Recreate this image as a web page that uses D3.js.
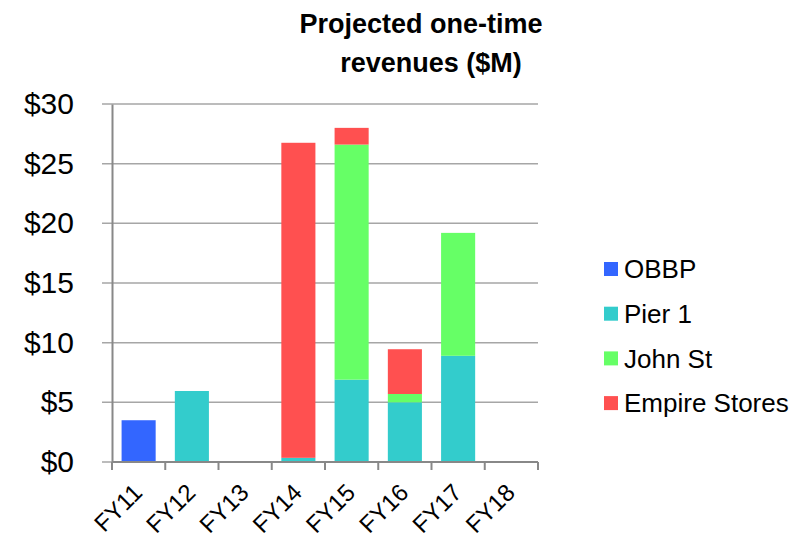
<!DOCTYPE html>
<html>
<head>
<meta charset="utf-8">
<script src="https://cdn.jsdelivr.net/npm/d3@7"></script>
<style>
  body { margin: 0; background: #fff; }
  svg { font-family: "Liberation Sans", Arial, sans-serif; }
</style>
</head>
<body>
<div id="chart"></div>
<script>
// Projected one-time revenues, $M
const years = ['FY11', 'FY12', 'FY13', 'FY14', 'FY15', 'FY16', 'FY17', 'FY18'];
const seriesNames = ['OBBP', 'Pier 1', 'John St', 'Empire Stores'];
const colors = ['#3366FF', '#33CCCC', '#66FF66', '#FF5050'];

const obbp = [3.5, 0, 0, 0, 0, 0, 0, 0];
const pier1 = [0, 5.95, 0, 0.35, 6.9, 5.0, 8.9, 0];
const johnSt = [0, 0, 0, 0, 19.7, 0.7, 10.3, 0];
const empireStores = [0, 0, 0, 26.4, 1.4, 3.75, 0, 0];

const yTicks = [0, 5, 10, 15, 20, 25, 30];

const W = 808, H = 538;
const margin = { top: 104, right: 270, bottom: 76, left: 112 };
const width = W - margin.left - margin.right;
const height = H - margin.top - margin.bottom;

const svg = d3.select('#chart').append('svg')
    .attr('width', W)
    .attr('height', H);

// Title
const title = svg.append('text')
    .attr('font-size', 27)
    .attr('font-weight', 'bold')
    .attr('text-anchor', 'middle');
title.append('tspan').attr('x', 421).attr('y', 33).text('Projected one-time');
title.append('tspan').attr('x', 431).attr('y', 72).text('revenues ($M)');

const g = svg.append('g')
    .attr('transform', `translate(${margin.left},${margin.top})`);

const x = d3.scaleBand()
    .domain(years)
    .range([0, width])
    .paddingInner(0.36)
    .paddingOuter(0.18);

const y = d3.scaleLinear()
    .domain([0, 30])
    .range([height, 0]);

// Gridlines
g.append('g')
    .selectAll('line')
    .data(yTicks)
    .join('line')
    .attr('x1', -10)
    .attr('x2', width)
    .attr('y1', d => y(d))
    .attr('y2', d => y(d))
    .attr('stroke', '#a6a6a6')
    .attr('stroke-width', 1.5);

// Stacked bars
const table = years.map((yr, i) => ({
    year: yr,
    'OBBP': obbp[i],
    'Pier 1': pier1[i],
    'John St': johnSt[i],
    'Empire Stores': empireStores[i]
}));

const stack = d3.stack().keys(seriesNames)(table);
const color = d3.scaleOrdinal().domain(seriesNames).range(colors);

g.append('g')
    .selectAll('g')
    .data(stack)
    .join('g')
    .attr('fill', d => color(d.key))
    .selectAll('rect')
    .data(d => d.filter(p => p[1] - p[0] > 0))
    .join('rect')
    .attr('x', d => x(d.data.year))
    .attr('width', x.bandwidth())
    .attr('y', d => y(d[1]))
    .attr('height', d => y(d[0]) - y(d[1]));

// Y axis
const yAxis = g.append('g')
    .call(d3.axisLeft(y).tickValues(yTicks).tickSize(0).tickPadding(38)
        .tickFormat(d => '$' + d));
yAxis.select('.domain').attr('stroke', '#888').attr('stroke-width', 2);
yAxis.selectAll('text')
    .attr('font-size', 30)
    .attr('fill', '#000')
    .attr('font-family', '"Liberation Sans", Arial, sans-serif');

// X axis
const xBounds = d3.range(years.length + 1).map(i => i * width / years.length);
const xAxis = g.append('g').attr('transform', `translate(0,${height})`);
xAxis.append('line')
    .attr('x1', 0).attr('x2', width)
    .attr('stroke', '#888').attr('stroke-width', 2);
xAxis.selectAll('.tick')
    .data(xBounds)
    .join('line')
    .attr('class', 'tick')
    .attr('x1', d => d).attr('x2', d => d)
    .attr('y1', 0).attr('y2', 8)
    .attr('stroke', '#888').attr('stroke-width', 2);

xAxis.selectAll('.label')
    .data(years)
    .join('text')
    .attr('class', 'label')
    .attr('font-size', 24)
    .attr('text-anchor', 'end')
    .attr('transform', d => `translate(${x(d) + x.bandwidth() / 2 + 5},${32}) rotate(-45)`)
    .text(d => d);

// Legend
const legend = svg.append('g')
    .attr('transform', 'translate(604,269)');
const items = legend.selectAll('g')
    .data(seriesNames)
    .join('g')
    .attr('transform', (d, i) => `translate(0,${i * 44.7})`);
items.append('rect')
    .attr('x', 0).attr('y', -7)
    .attr('width', 14).attr('height', 14)
    .attr('fill', d => color(d));
items.append('text')
    .attr('x', 20)
    .attr('dy', '0.36em')
    .attr('font-size', 26)
    .text(d => d);
</script>
</body>
</html>
